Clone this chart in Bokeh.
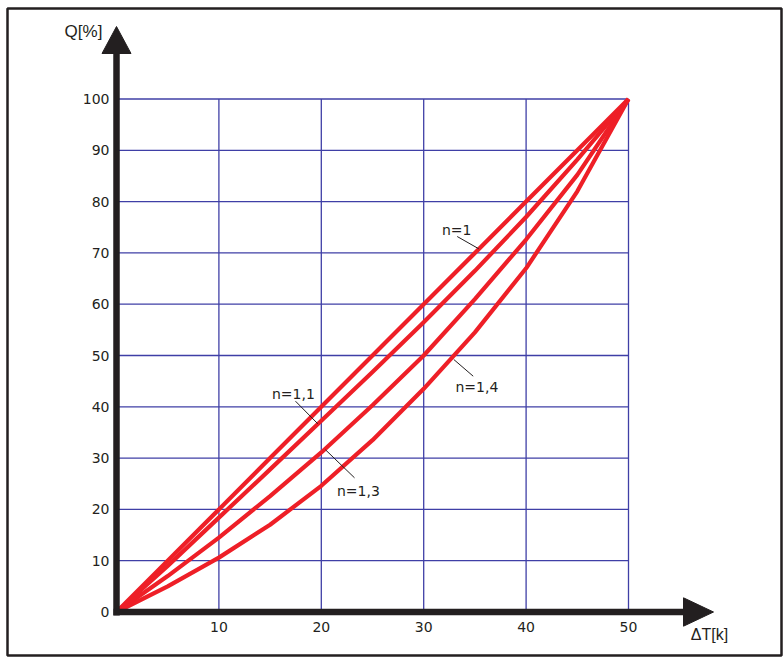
from bokeh.plotting import figure
from bokeh.models import Range1d
from bokeh.core.properties import value
from bokeh.embed import file_html
from bokeh.resources import INLINE

# Temperature difference ΔT [K] and heat output Q [%] for the four exponents
dT = [0, 5, 10, 15, 20, 25, 30, 35, 40, 45, 50]
q_n1 = [0, 10, 20, 30, 40, 50, 60, 70, 80, 90, 100]
q_n11 = [0, 9.0, 18.4, 27.8, 37.3, 46.8, 56.5, 66.5, 77.0, 88.2, 100]
q_n13 = [0, 7.0, 14.5, 22.6, 31.1, 40.3, 50.0, 61.0, 72.6, 85.2, 100]
q_n14 = [0, 5.0, 10.6, 17.0, 24.6, 33.5, 43.5, 54.5, 67.0, 82.0, 100]

series = [q_n1, q_n11, q_n13, q_n14]
curve_labels = ["n=1", "n=1,1", "n=1,3", "n=1,4"]

y_ticks = [0, 10, 20, 30, 40, 50, 60, 70, 80, 90, 100]
x_ticks = [10, 20, 30, 40, 50]
y_title = "Q[%]"
x_title = "ΔT[k]"

# ---- layout: pixel position of the origin and pixels per data unit ----
W, H = 784, 663
X0_PX, Y0_PX = 116.0, 611.5
SX, SY = 10.24, 5.13


def dx(px):
    """horizontal pixel -> data x"""
    return (px - X0_PX) / SX


def dy(py):
    """vertical pixel (from top) -> data y"""
    return (Y0_PX - py) / SY


p = figure(
    width=W, height=H,
    x_range=Range1d(dx(0), dx(W)), y_range=Range1d(dy(H), dy(0)),
    output_backend="svg", toolbar_location=None, min_border=0,
    x_axis_location=None, y_axis_location=None,
)
p.grid.visible = False
p.outline_line_color = None
p.background_fill_color = "white"
p.border_fill_color = "white"

# outer frame
p.quad(left=[dx(7)], right=[dx(781)], top=[dy(8)], bottom=[dy(655)],
       fill_color=None, line_color="#231f20", line_width=2.5)

# grid
grid_color = "#3f3fa6"
x_max, y_max = dT[-1], y_ticks[-1]
p.segment(x0=x_ticks, y0=[0] * len(x_ticks), x1=x_ticks, y1=[y_max] * len(x_ticks),
          line_color=grid_color, line_width=1.3)
p.segment(x0=[0] * (len(y_ticks) - 1), y0=y_ticks[1:], x1=[x_max] * (len(y_ticks) - 1),
          y1=y_ticks[1:], line_color=grid_color, line_width=1.3)

# curves
for q in series:
    p.line(dT, q, line_color="#ee1f27", line_width=4.2, line_join="round")

# axes with arrow heads
axis_color = "#231f20"
y_head_base, y_head_tip, y_head_half = dy(53), dy(26), 14.5 / SX
x_head_base, x_head_tip, x_head_half = dx(683), dx(713), 14.2 / SY
p.segment(x0=[0], y0=[dy(615)], x1=[0], y1=[y_head_base], line_color=axis_color, line_width=6.5)
p.segment(x0=[dx(113)], y0=[0], x1=[x_head_base], y1=[0], line_color=axis_color, line_width=6.5)
p.patches(
    xs=[[-y_head_half, y_head_half, 0], [x_head_base, x_head_base, x_head_tip]],
    ys=[[y_head_base, y_head_base, y_head_tip], [-x_head_half, x_head_half, 0]],
    fill_color=axis_color, line_color=axis_color, line_width=1,
)

font = value("DejaVu Sans")
title_font = value("Liberation Sans")

# tick labels
p.text(x=[dx(109)] * len(y_ticks), y=y_ticks, text=[str(v) for v in y_ticks],
       text_font=font, text_font_size="14px", text_align="right",
       text_baseline="middle", text_color="#231f20")
p.text(x=x_ticks, y=[dy(626)] * len(x_ticks), text=[str(v) for v in x_ticks],
       text_font=font, text_font_size="14px", text_align="center",
       text_baseline="middle", text_color="#231f20")

# axis titles
p.text(x=[dx(83)], y=[dy(31)], text=[y_title], text_font=title_font,
       text_font_size="17px", text_align="center", text_baseline="middle",
       text_color="#231f20")
p.text(x=[dx(709)], y=[dy(634)], text=[x_title], text_font=title_font,
       text_font_size="16px", text_align="center", text_baseline="middle",
       text_color="#231f20")

# curve labels with leader lines
label_x = [dx(441.5), dx(271.5), dx(336.5), dx(455)]
label_y = [dy(229.5), dy(393.5), dy(490.5), dy(386)]
leader_x0 = [dx(456.7), dx(295), dx(325), dx(453.3)]
leader_y0 = [dy(236), dy(400.7), dy(449.3), dy(359)]
leader_x1 = [dx(478.3), dx(317.3), dx(354), dx(472.7)]
leader_y1 = [dy(248.3), dy(423.3), dy(477.3), dy(375.7)]
p.segment(x0=leader_x0, y0=leader_y0, x1=leader_x1, y1=leader_y1,
          line_color="#231f20", line_width=1)
p.text(x=label_x, y=label_y, text=curve_labels, text_font=font,
       text_font_size="14px", text_align="left", text_baseline="middle",
       text_color="#231f20")

open("out.html", "w").write(file_html(p, INLINE))
